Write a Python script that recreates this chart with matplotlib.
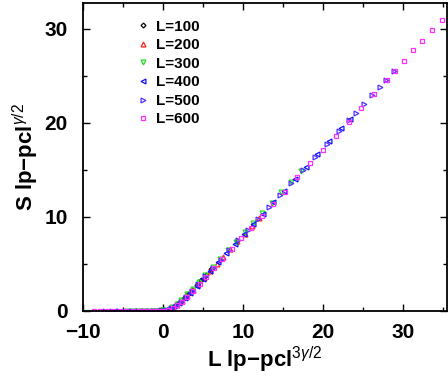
"""
Scaling collapse plot: S |p-pc|^(gamma/2) vs L |p-pc|^(3 gamma/2)
"""
import matplotlib
matplotlib.use('Agg')
import matplotlib.pyplot as plt
from matplotlib.ticker import MultipleLocator

plt.rcParams['font.family'] = ['Liberation Sans', 'DejaVu Sans']
plt.rcParams['font.weight'] = 'bold'
plt.rcParams['mathtext.fontset'] = 'custom'
plt.rcParams['mathtext.rm'] = 'Liberation Sans:weight=normal'
plt.rcParams['mathtext.it'] = 'Liberation Sans:italic:weight=normal'

labels = ['L=100', 'L=200', 'L=300', 'L=400', 'L=500', 'L=600']

x100 = [-1.5, -1.1, -0.7, -0.3, 0.1, 0.5, 0.9, 1.3, 1.7, 2.1, 2.6, 3.1, 3.6, 4.2, 4.8, 5.4, 6.0]
y100 = [0.01, 0.02, 0.03, 0.04, 0.06, 0.1, 0.22, 0.42, 0.68, 0.98, 1.35, 1.78, 2.2, 2.74, 3.29, 3.84, 4.4]

x200 = [-3.0, -2.4, -1.8, -1.2, -0.6, 0.0, 0.6, 1.2, 1.8, 2.4, 3.0, 3.7, 4.4, 5.1, 5.9, 6.7, 7.5,
        8.4, 9.3, 10.2, 11.1, 12.0]
y200 = [0.0, 0.0, 0.0, 0.01, 0.02, 0.04, 0.12, 0.33, 0.65, 1.05, 1.55, 2.2, 2.87, 3.52, 4.26, 5.0, 5.74,
        6.57, 7.4, 8.23, 9.06, 9.9]

x300 = [-4.5, -3.8, -3.1, -2.5, -1.9, -1.3, -0.7, -0.1, 0.5, 1.1, 1.7, 2.3, 3.0, 3.7, 4.5, 5.3, 6.2,
        7.1, 8.1, 9.1, 10.2, 11.3, 12.4, 13.6, 14.8, 16.0, 17.2]
y300 = [0.0, 0.0, 0.0, 0.0, 0.01, 0.01, 0.02, 0.04, 0.12, 0.38, 0.75, 1.18, 1.75, 2.35, 3.1, 3.85, 4.68,
        5.52, 6.44, 7.37, 8.38, 9.4, 10.42, 11.53, 12.64, 13.75, 14.86]

x400 = [-6.0, -5.2, -4.4, -3.6, -2.9, -2.2, -1.6, -1.0, -0.4, 0.2, 0.8, 1.4, 2.0, 2.7, 3.4, 4.2, 5.0,
        5.9, 6.9, 7.9, 9.0, 10.1, 11.3, 12.5, 13.8, 15.1, 16.5, 17.9, 19.3, 20.8, 22.3, 23.4]
y400 = [0.0, 0.0, 0.0, 0.0, 0.0, 0.01, 0.01, 0.02, 0.03, 0.05, 0.18, 0.48, 0.85, 1.35, 1.95, 2.68, 3.42,
        4.26, 5.18, 6.11, 7.12, 8.14, 9.25, 10.36, 11.56, 12.77, 14.06, 15.36, 16.65, 18.04, 19.43, 20.44]

x500 = [-7.2, -6.4, -5.6, -4.8, -4.0, -3.2, -2.5, -1.9, -1.3, -0.7, -0.2, 0.4, 1.0, 1.6, 2.2, 2.9, 3.6,
        4.4, 5.3, 6.2, 7.2, 8.3, 9.4, 10.6, 11.9, 13.2, 14.6, 16.0, 17.5, 19.0, 20.5, 22.0, 23.2,
        24.1, 25.1, 26.1, 27.1, 27.9, 28.9]
y500 = [0.0, 0.0, 0.0, 0.0, 0.0, 0.0, 0.01, 0.01, 0.02, 0.02, 0.04, 0.08, 0.25, 0.55, 0.95, 1.5, 2.1,
        2.87, 3.7, 4.53, 5.46, 6.48, 7.49, 8.6, 9.81, 11.01, 12.3, 13.6, 14.99, 16.37, 17.76, 19.15, 20.26,
        21.09, 22.02, 22.94, 23.87, 24.61, 25.53]

x600 = [-8.6, -7.8, -7.0, -6.2, -5.4, -4.6, -3.8, -3.0, -2.4, -1.8, -1.2, -0.6, 0.0, 0.6, 1.2, 1.8, 2.4,
        3.0, 3.8, 4.6, 5.4, 6.4, 7.4, 8.6, 9.8, 11.0, 12.4, 13.8, 15.2, 16.8, 18.4, 20.0, 21.6,
        23.2, 24.8, 26.4, 28.0, 29.0, 30.1, 31.3, 32.4, 33.6, 34.8]
y600 = [0.0, 0.0, 0.0, 0.0, 0.0, 0.0, 0.0, 0.0, 0.01, 0.01, 0.01, 0.02, 0.02, 0.1, 0.28, 0.58, 0.95,
        1.42, 2.15, 2.9, 3.65, 4.58, 5.5, 6.6, 7.7, 8.8, 10.1, 11.4, 12.7, 14.2, 15.7, 17.15, 18.65,
        20.1, 21.6, 23.1, 24.6, 25.55, 26.6, 27.75, 28.75, 29.85, 30.95]

xs = [x100, x200, x300, x400, x500, x600]
ys = [y100, y200, y300, y400, y500, y600]
markers = ['D', '^', 'v', '<', '>', 's']
colors = ['black', '#ff2020', '#20e020', '#1010ff', '#5030ff', '#ff30ff']
sizes = [2.5, 3.5, 3.5, 3.5, 3.5, 3.0]

fig = plt.figure(figsize=(4.48, 3.8), dpi=100)
ax = fig.add_axes([0.185, 0.182, 0.813, 0.811])

for x, y, m, c, s, lab in zip(xs, ys, markers, colors, sizes, labels):
    ax.plot(x, y, linestyle='none', marker=m, markersize=s, markerfacecolor='none',
            markeredgecolor=c, markeredgewidth=0.9, label=lab)

ax.set_xlim(-10, 35.5)
ax.set_ylim(0, 32.8)
ax.xaxis.set_major_locator(MultipleLocator(10))
ax.xaxis.set_minor_locator(MultipleLocator(5))
ax.yaxis.set_major_locator(MultipleLocator(10))
ax.yaxis.set_minor_locator(MultipleLocator(5))
ax.tick_params(which='both', direction='in', top=True, right=True, labelsize=15, width=1)
ax.tick_params(which='major', length=5)
ax.tick_params(which='minor', length=3)
ax.tick_params(axis='x', which='major', pad=9)
ax.tick_params(axis='y', which='major', pad=11)
for sp in ax.spines.values():
    sp.set_linewidth(1.3)

ax.set_xlabel('L lp\u2212pcl$^{3\\gamma/2}$', fontsize=16, fontweight='bold', labelpad=2)
ax.set_ylabel('S lp\u2212pcl$^{\\gamma/2}$', fontsize=16, fontweight='bold', labelpad=2)

ax.legend(loc='upper left', bbox_to_anchor=(0.12, 0.98), frameon=False, fontsize=11,
          handlelength=0.8, handletextpad=0.4, labelspacing=0.3, borderpad=0.2)

fig.savefig('out.png', dpi=100)
